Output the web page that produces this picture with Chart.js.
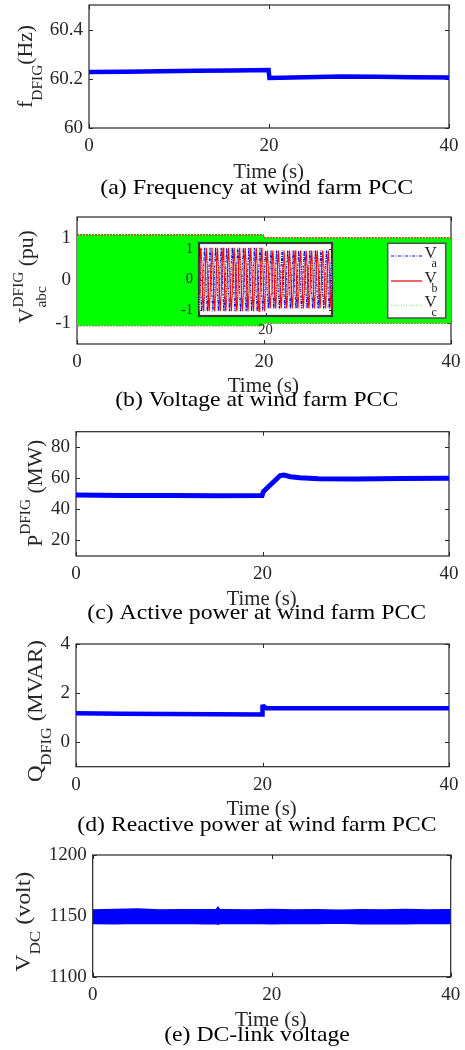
<!DOCTYPE html>
<html><head><meta charset="utf-8">
<script src="https://cdn.jsdelivr.net/npm/chart.js@4.4.1/dist/chart.umd.min.js"></script>
<style>
html,body{margin:0;padding:0;background:#fff;}
body{width:465px;height:1050px;position:relative;overflow:hidden;}
canvas{position:absolute;left:0;}
</style></head><body>
<canvas id="pa" width="465" height="200" style="top:0px;width:465px;height:200px"></canvas>
<canvas id="pb" width="465" height="212" style="top:200px;width:465px;height:212px"></canvas>
<canvas id="pi" width="172" height="110" style="left:170px;top:236px;width:172px;height:110px"></canvas>
<canvas id="pc" width="465" height="222" style="top:410px;width:465px;height:222px"></canvas>
<canvas id="pd" width="465" height="212" style="top:630px;width:465px;height:212px"></canvas>
<canvas id="pe" width="465" height="210" style="top:840px;width:465px;height:210px"></canvas>
<script>
// ---------------- DATA ----------------
const xTicks = [0, 20, 40];

// (a) frequency at PCC
const freqTime = [0, 4, 8, 12, 16, 19.95, 20.05, 24, 28, 32, 36, 40];
const freqHz   = [60.228, 60.229, 60.231, 60.233, 60.234, 60.236, 60.203, 60.206, 60.209, 60.208, 60.206, 60.205];
const freqTicks = [60, 60.2, 60.4];

// (b) voltage envelope (main axes) and zoomed inset
const vEnvTime  = [0, 19.95, 20.05, 40];
const vEnvUpper = [1.08, 1.08, 1.01, 1.01];
const vEnvLower = [-1.07, -1.07, -1.01, -1.01];
const vTicks = [-1, 0, 1];
const insetXTicks = [20];
const insetYTicks = [-1, 0, 1];
const insetStart = 19.8, insetStep = 1 / 360;
const Va = [
 1.04,0.52,-0.52,-1.04,-0.52,0.52, 1.04,0.52,-0.52,-1.04,-0.52,0.52,
 1.04,0.52,-0.52,-1.04,-0.52,0.52, 1.04,0.52,-0.52,-1.04,-0.52,0.52,
 1.04,0.52,-0.52,-1.04,-0.52,0.52, 1.04,0.52,-0.52,-1.04,-0.52,0.52,
 1.04,0.52,-0.52,-1.04,-0.52,0.52, 1.04,0.52,-0.52,-1.04,-0.52,0.52,
 1.04,0.52,-0.52,-1.04,-0.52,0.52, 1.04,0.52,-0.52,-1.04,-0.52,0.52,
 1.04,0.52,-0.52,-1.04,-0.52,0.52, 1.04,0.52,-0.52,-1.04,-0.52,0.52,
 0.95,0.48,-0.48,-0.95,-0.48,0.48, 0.95,0.48,-0.48,-0.95,-0.48,0.48,
 0.95,0.48,-0.48,-0.95,-0.48,0.48, 0.95,0.48,-0.48,-0.95,-0.48,0.48,
 0.95,0.48,-0.48,-0.95,-0.48,0.48, 0.95,0.48,-0.48,-0.95,-0.48,0.48,
 0.95,0.48,-0.48,-0.95,-0.48,0.48, 0.95,0.48,-0.48,-0.95,-0.48,0.48,
 0.95,0.48,-0.48,-0.95,-0.48,0.48, 0.95,0.48,-0.48,-0.95,-0.48,0.48,
 0.95,0.48,-0.48,-0.95,-0.48,0.48, 0.95,0.48,-0.48,-0.95,-0.48,0.48,
 0.95];
const Vb = [
 -0.52,0.52,1.04,0.52,-0.52,-1.04, -0.52,0.52,1.04,0.52,-0.52,-1.04,
 -0.52,0.52,1.04,0.52,-0.52,-1.04, -0.52,0.52,1.04,0.52,-0.52,-1.04,
 -0.52,0.52,1.04,0.52,-0.52,-1.04, -0.52,0.52,1.04,0.52,-0.52,-1.04,
 -0.52,0.52,1.04,0.52,-0.52,-1.04, -0.52,0.52,1.04,0.52,-0.52,-1.04,
 -0.52,0.52,1.04,0.52,-0.52,-1.04, -0.52,0.52,1.04,0.52,-0.52,-1.04,
 -0.52,0.52,1.04,0.52,-0.52,-1.04, -0.52,0.52,1.04,0.52,-0.52,-1.04,
 -0.48,0.48,0.95,0.48,-0.48,-0.95, -0.48,0.48,0.95,0.48,-0.48,-0.95,
 -0.48,0.48,0.95,0.48,-0.48,-0.95, -0.48,0.48,0.95,0.48,-0.48,-0.95,
 -0.48,0.48,0.95,0.48,-0.48,-0.95, -0.48,0.48,0.95,0.48,-0.48,-0.95,
 -0.48,0.48,0.95,0.48,-0.48,-0.95, -0.48,0.48,0.95,0.48,-0.48,-0.95,
 -0.48,0.48,0.95,0.48,-0.48,-0.95, -0.48,0.48,0.95,0.48,-0.48,-0.95,
 -0.48,0.48,0.95,0.48,-0.48,-0.95, -0.48,0.48,0.95,0.48,-0.48,-0.95,
 -0.48];
const Vc = [
 -0.52,-1.04,-0.52,0.52,1.04,0.52, -0.52,-1.04,-0.52,0.52,1.04,0.52,
 -0.52,-1.04,-0.52,0.52,1.04,0.52, -0.52,-1.04,-0.52,0.52,1.04,0.52,
 -0.52,-1.04,-0.52,0.52,1.04,0.52, -0.52,-1.04,-0.52,0.52,1.04,0.52,
 -0.52,-1.04,-0.52,0.52,1.04,0.52, -0.52,-1.04,-0.52,0.52,1.04,0.52,
 -0.52,-1.04,-0.52,0.52,1.04,0.52, -0.52,-1.04,-0.52,0.52,1.04,0.52,
 -0.52,-1.04,-0.52,0.52,1.04,0.52, -0.52,-1.04,-0.52,0.52,1.04,0.52,
 -0.48,-0.95,-0.48,0.48,0.95,0.48, -0.48,-0.95,-0.48,0.48,0.95,0.48,
 -0.48,-0.95,-0.48,0.48,0.95,0.48, -0.48,-0.95,-0.48,0.48,0.95,0.48,
 -0.48,-0.95,-0.48,0.48,0.95,0.48, -0.48,-0.95,-0.48,0.48,0.95,0.48,
 -0.48,-0.95,-0.48,0.48,0.95,0.48, -0.48,-0.95,-0.48,0.48,0.95,0.48,
 -0.48,-0.95,-0.48,0.48,0.95,0.48, -0.48,-0.95,-0.48,0.48,0.95,0.48,
 -0.48,-0.95,-0.48,0.48,0.95,0.48, -0.48,-0.95,-0.48,0.48,0.95,0.48,
 -0.48];

// (c) active power
const pTime = [0, 5, 10, 15, 19.95, 20.1, 21.9, 22.3, 23, 24, 26, 30, 35, 40];
const pMW   = [49.2, 49.0, 48.9, 48.8, 48.9, 51.5, 61.8, 62.1, 61.0, 60.3, 59.7, 59.6, 59.8, 60.0];
const pTicks = [20, 40, 60, 80];

// (d) reactive power
const qTime = [0, 5, 10, 15, 19.95, 20.0, 20.15, 20.4, 25, 30, 35, 40];
const qMVAR = [1.18, 1.16, 1.15, 1.14, 1.13, 1.45, 1.46, 1.38, 1.38, 1.38, 1.38, 1.38];
const qTicks = [0, 2, 4];

// (e) DC-link voltage (band of ripple)
const dcTime  = [0, 2.5, 5, 7.5, 10, 12.5, 13.8, 14, 14.2, 15, 17.5, 20, 22.5, 25, 27.5, 30, 32.5, 35, 37.5, 40];
const dcUpper = [1154.8, 1155.2, 1155.6, 1154.9, 1155.0, 1155.1, 1155.0, 1157.0, 1155.0, 1155.0, 1154.8, 1155.3, 1154.9, 1155.1, 1154.7, 1155.0, 1154.8, 1155.2, 1154.9, 1155.0];
const dcLower = [1143.8, 1143.5, 1144.0, 1143.7, 1143.9, 1143.6, 1143.7, 1143.2, 1143.7, 1143.8, 1144.0, 1143.6, 1143.9, 1143.7, 1144.1, 1143.6, 1143.8, 1143.5, 1143.9, 1143.8];
const dcTicks = [1100, 1150, 1200];

// ---------------- HELPERS ----------------
const SERIF = '"Liberation Serif", "Times New Roman", serif';
const AXIS = '#262626';
const BLUE = '#0000ff';
function fnt(s) { return s + 'px ' + SERIF; }
function pts(xs, ys) { return xs.map((x, i) => ({ x: x, y: ys[i] })); }

function partWidth(ctx, p) {
  ctx.font = fnt(p.s);
  if (p.sup !== undefined) return Math.max(ctx.measureText(p.sup).width, ctx.measureText(p.sub).width);
  return ctx.measureText(p.t).width;
}
function drawRich(ctx, parts, x, y, rotated, len, color) {
  ctx.save();
  ctx.translate(x, y);
  if (rotated) ctx.rotate(-Math.PI / 2);
  const ws = parts.map(p => partWidth(ctx, p));
  const total = ws.reduce((a, b) => a + b, 0);
  ctx.scale(len ? len / total : 1, 1);
  ctx.fillStyle = color; ctx.textAlign = 'left'; ctx.textBaseline = 'alphabetic';
  let cx = -total / 2;
  parts.forEach((p, i) => {
    ctx.font = fnt(p.s);
    if (p.sup !== undefined) { ctx.fillText(p.sup, cx, p.supDy); ctx.fillText(p.sub, cx, p.subDy); }
    else ctx.fillText(p.t, cx, p.dy || 0);
    cx += ws[i];
  });
  ctx.restore();
}

function buildPanel(id, P) {
  const canvas = document.getElementById(id);
  const W = canvas.width, H = canvas.height, A = P.area;
  const TL = P.tickLen || 4;
  const frame = {
    id: 'frame',
    beforeDraw(chart) {
      if (!P.whiteArea) return;
      const ca = chart.chartArea, ctx = chart.ctx;
      ctx.save(); ctx.fillStyle = '#fff';
      ctx.fillRect(ca.left, ca.top, ca.right - ca.left, ca.bottom - ca.top);
      ctx.restore();
    },
    beforeDatasetsDraw(chart) {
      const ctx = chart.ctx, ca = chart.chartArea, xs = chart.scales.x, ys = chart.scales.y;
      ctx.save();
      ctx.strokeStyle = P.boxColor || AXIS; ctx.lineWidth = P.boxWidth || 1.2;
      ctx.strokeRect(ca.left, ca.top, ca.right - ca.left, ca.bottom - ca.top);
      ctx.strokeStyle = AXIS; ctx.lineWidth = 1; ctx.beginPath();
      P.xTicks.forEach(v => {
        const px = Math.round(xs.getPixelForValue(v)) + 0.5;
        ctx.moveTo(px, ca.bottom); ctx.lineTo(px, ca.bottom - TL);
        ctx.moveTo(px, ca.top); ctx.lineTo(px, ca.top + TL);
      });
      P.yTicks.forEach(v => {
        const py = Math.round(ys.getPixelForValue(v)) + 0.5;
        ctx.moveTo(ca.left, py); ctx.lineTo(ca.left + TL, py);
        ctx.moveTo(ca.right, py); ctx.lineTo(ca.right - TL, py);
      });
      ctx.stroke(); ctx.restore();
    },
    afterDraw(chart) {
      const ctx = chart.ctx;
      if (P.yTitle) drawRich(ctx, P.yTitle.parts, P.yTitle.x, P.yTitle.y, true, P.yTitle.len, AXIS);
      if (P.xTitle) drawRich(ctx, [{ t: 'Time (s)', s: 20.5 }], P.xTitle.x, P.xTitle.y, false, P.xTitle.len, AXIS);
      if (P.caption) drawRich(ctx, [{ t: P.caption.t, s: 21 }], P.caption.x, P.caption.y, false, P.caption.len, '#000');
      if (P.after) P.after(ctx, chart);
    }
  };
  const tickFont = { family: 'Liberation Serif', size: P.tickSize || 19 };
  return new Chart(canvas, {
    type: 'line',
    data: { datasets: P.datasets },
    options: {
      responsive: false, animation: false, devicePixelRatio: 1,
      layout: { padding: { top: A.t, right: W - A.r, left: 0, bottom: 0 } },
      plugins: { legend: { display: false }, tooltip: { enabled: false } },
      elements: { point: { radius: 0 }, line: { tension: 0 } },
      scales: {
        x: {
          type: 'linear', min: P.xMin, max: P.xMax,
          afterBuildTicks: s => { s.ticks = P.xTicks.map(v => ({ value: v })); },
          afterFit: s => { s.height = H - A.b; s.paddingLeft = 0; s.paddingRight = 0; },
          grid: { display: false, drawTicks: false }, border: { display: false },
          ticks: { padding: P.xPad || 7, font: tickFont, color: AXIS, maxRotation: 0, autoSkip: false, callback: v => String(v) }
        },
        y: {
          type: 'linear', min: P.yMin, max: P.yMax,
          afterBuildTicks: s => { s.ticks = P.yTicks.map(v => ({ value: v })); },
          afterFit: s => { s.width = A.l; s.paddingTop = 0; s.paddingBottom = 0; },
          grid: { display: false, drawTicks: false }, border: { display: false },
          ticks: { padding: P.yPad || 6, font: tickFont, color: AXIS, autoSkip: false, callback: v => String(v) }
        }
      }
    },
    plugins: [frame]
  });
}

const thick = (data, w) => ({ data: data, borderColor: BLUE, borderWidth: w, pointRadius: 0, fill: false });

// (a)
buildPanel('pa', {
  area: { l: 89, r: 449, t: 5, b: 128 },
  xMin: 0, xMax: 40, yMin: 60, yMax: 60.5, xTicks: xTicks, yTicks: freqTicks,
  datasets: [thick(pts(freqTime, freqHz), 4.5)],
  yTitle: { parts: [{ t: 'f', s: 21 }, { t: 'DFIG', s: 15, dy: 10 }, { t: '(Hz)', s: 21 }], x: 32, y: 66.5, len: 83 },
  xTitle: { x: 268.7, y: 177.7, len: 70.7 },
  caption: { t: '(a) Frequency at wind farm PCC', x: 256.7, y: 194, len: 313 }
});

// (b)
buildPanel('pb', {
  area: { l: 77, r: 451, t: 17, b: 144 },
  xMin: 0, xMax: 40, yMin: -1.5, yMax: 1.5, xTicks: xTicks, yTicks: vTicks,
  datasets: [
    { data: pts(vEnvTime, vEnvUpper), borderColor: '#e00000', borderWidth: 1, borderDash: [2, 1], backgroundColor: '#00ff00', fill: '+1', pointRadius: 0 },
    { data: pts(vEnvTime, vEnvLower), borderColor: '#e00000', borderWidth: 1, borderDash: [2, 1], fill: false, pointRadius: 0 }
  ],
  yTitle: { parts: [{ t: 'V', s: 21 }, { sup: 'DFIG', sub: 'abc', s: 15, supDy: -10, subDy: 13 }, { t: ' (pu)', s: 21 }], x: 33, y: 76.7, len: 93 },
  xTitle: { x: 263.3, y: 191.7, len: 71.3 },
  caption: { t: '(b) Voltage at wind farm PCC', x: 256.7, y: 206, len: 283 },
  after: (ctx) => {
    ctx.save();
    ctx.fillStyle = '#fff'; ctx.fillRect(387.7, 43.3, 58, 74.7);
    ctx.strokeStyle = '#505050'; ctx.lineWidth = 1.5; ctx.strokeRect(387.7, 43.3, 58, 74.7);
    const entries = [
      { y: 56, color: '#1010e0', dash: [3, 1.5, 1, 1.5], sub: 'a' },
      { y: 81, color: '#e00000', dash: [], sub: 'b' },
      { y: 105.3, color: '#90ee90', dash: [1, 1.5], sub: 'c' }
    ];
    entries.forEach(e => {
      ctx.setLineDash(e.dash); ctx.strokeStyle = e.color; ctx.lineWidth = 1.2;
      ctx.beginPath(); ctx.moveTo(391, e.y); ctx.lineTo(422, e.y); ctx.stroke();
      ctx.setLineDash([]);
      ctx.fillStyle = AXIS; ctx.textAlign = 'left'; ctx.textBaseline = 'alphabetic';
      ctx.font = fnt(17); ctx.fillText('V', 424.5, e.y + 2);
      ctx.font = fnt(12); ctx.fillText(e.sub, 431.5, e.y + 10.5);
    });
    ctx.restore();
  }
});

// (b) inset
buildPanel('pi', {
  area: { l: 29, r: 162, t: 7, b: 80 },
  xMin: 19.8, xMax: 20.2, yMin: -1.2, yMax: 1.2, xTicks: insetXTicks, yTicks: insetYTicks,
  whiteArea: true, boxWidth: 2.2, boxColor: '#3a3a3a', tickSize: 14.5, xPad: 5, yPad: 6, tickLen: 3,
  datasets: [
    { data: Va.map((v, i) => ({ x: insetStart + i * insetStep, y: v })), borderColor: '#0000ff', borderWidth: 1.2, borderDash: [3, 1, 1, 1], pointRadius: 0, fill: false, order: 2 },
    { data: Vb.map((v, i) => ({ x: insetStart + i * insetStep, y: v })), borderColor: '#ff0000', borderWidth: 1.2, pointRadius: 0, fill: false, order: 1 },
    { data: Vc.map((v, i) => ({ x: insetStart + i * insetStep, y: v })), borderColor: '#a8f0a8', borderWidth: 1, borderDash: [1, 1.5], pointRadius: 0, fill: false, order: 0 }
  ]
});

// (c)
buildPanel('pc', {
  area: { l: 76, r: 449, t: 21.7, b: 146 },
  xMin: 0, xMax: 40, yMin: 10, yMax: 90, xTicks: xTicks, yTicks: pTicks,
  datasets: [thick(pts(pTime, pMW), 5)],
  yTitle: { parts: [{ t: 'P', s: 21 }, { t: 'DFIG', s: 15, dy: -12 }, { t: ' (MW)', s: 21 }], x: 42, y: 83.3, len: 107 },
  xTitle: { x: 261.7, y: 195, len: 70 },
  caption: { t: '(c) Active power at wind farm PCC', x: 256.7, y: 209, len: 338.7 }
});

// (d)
buildPanel('pd', {
  area: { l: 76, r: 449, t: 14, b: 136.7 },
  xMin: 0, xMax: 40, yMin: -1, yMax: 4, xTicks: xTicks, yTicks: qTicks,
  datasets: [thick(pts(qTime, qMVAR), 4.5)],
  yTitle: { parts: [{ t: 'Q', s: 21 }, { t: 'DFIG', s: 15, dy: 9 }, { t: ' (MVAR)', s: 21 }], x: 42, y: 81, len: 142 },
  xTitle: { x: 261.7, y: 185, len: 70 },
  caption: { t: '(d) Reactive power at wind farm PCC', x: 257, y: 201, len: 359.3 }
});

// (e)
buildPanel('pe', {
  area: { l: 92.7, r: 450.7, t: 15, b: 136.7 },
  xMin: 0, xMax: 40, yMin: 1100, yMax: 1200, xTicks: xTicks, yTicks: dcTicks,
  datasets: [
    { data: pts(dcTime, dcUpper), borderColor: BLUE, borderWidth: 1.5, backgroundColor: BLUE, fill: '+1', pointRadius: 0 },
    { data: pts(dcTime, dcLower), borderColor: BLUE, borderWidth: 1.5, fill: false, pointRadius: 0 }
  ],
  yTitle: { parts: [{ t: 'V', s: 21 }, { t: 'DC', s: 15, dy: 10 }, { t: ' (volt)', s: 21 }], x: 30, y: 81.7, len: 100 },
  xTitle: { x: 270.8, y: 186, len: 71.7 },
  caption: { t: '(e) DC-link voltage', x: 257, y: 201, len: 185.7 }
});
</script>
</body></html>
